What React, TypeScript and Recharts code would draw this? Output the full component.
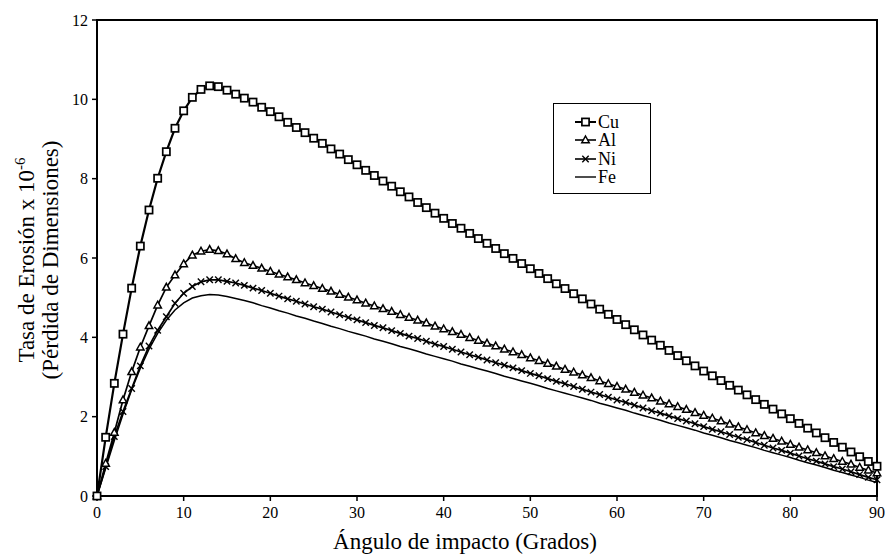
import { Line, LineChart, ReferenceArea, XAxis, YAxis } from "recharts";

const angles = [
  0, 1, 2, 3, 4, 5, 6, 7, 8, 9, 10, 11, 12, 13, 14, 15, 16, 17, 18, 19, 20, 21, 22, 23, 24, 25, 26, 27, 28, 29,
  30, 31, 32, 33, 34, 35, 36, 37, 38, 39, 40, 41, 42, 43, 44, 45, 46, 47, 48, 49, 50, 51, 52, 53, 54, 55, 56, 57, 58, 59,
  60, 61, 62, 63, 64, 65, 66, 67, 68, 69, 70, 71, 72, 73, 74, 75, 76, 77, 78, 79, 80, 81, 82, 83, 84, 85, 86, 87, 88, 89, 90,
];

const cu = [
  0, 1.48, 2.84, 4.08, 5.24, 6.3, 7.21, 8.01, 8.68, 9.27, 9.71, 10.05, 10.25, 10.34, 10.32, 10.23, 10.13, 10.03, 9.93, 9.8,
  9.69, 9.56, 9.42, 9.29, 9.16, 9.02, 8.89, 8.75, 8.62, 8.48, 8.35, 8.21, 8.08, 7.94, 7.81, 7.67, 7.54, 7.4, 7.27, 7.13,
  7.0, 6.87, 6.75, 6.62, 6.49, 6.37, 6.24, 6.11, 5.99, 5.86, 5.73, 5.61, 5.48, 5.35, 5.23, 5.1, 4.97, 4.84, 4.71, 4.58,
  4.45, 4.32, 4.19, 4.06, 3.93, 3.8, 3.67, 3.54, 3.41, 3.28, 3.15, 3.03, 2.91, 2.79, 2.67, 2.55, 2.43, 2.31, 2.19, 2.07,
  1.95, 1.83, 1.71, 1.59, 1.47, 1.35, 1.23, 1.11, 0.99, 0.87, 0.75,
];

const al = [
  0, 0.82, 1.6, 2.42, 3.13, 3.75, 4.29, 4.81, 5.26, 5.57, 5.85, 6.07, 6.17, 6.21, 6.18, 6.1, 5.98, 5.88, 5.81, 5.74,
  5.66, 5.59, 5.52, 5.45, 5.37, 5.3, 5.23, 5.16, 5.08, 5.01, 4.94, 4.86, 4.79, 4.72, 4.65, 4.57, 4.5, 4.43, 4.36, 4.28,
  4.21, 4.14, 4.07, 3.99, 3.92, 3.85, 3.78, 3.7, 3.63, 3.56, 3.48, 3.41, 3.34, 3.27, 3.19, 3.12, 3.05, 2.98, 2.9, 2.83,
  2.76, 2.69, 2.61, 2.54, 2.47, 2.39, 2.32, 2.25, 2.18, 2.1, 2.03, 1.96, 1.89, 1.81, 1.74, 1.67, 1.59, 1.52, 1.45, 1.38,
  1.3, 1.23, 1.16, 1.09, 1.01, 0.94, 0.87, 0.8, 0.72, 0.65, 0.58,
];

const ni = [
  0, 0.74, 1.5, 2.13, 2.71, 3.28, 3.78, 4.18, 4.52, 4.86, 5.11, 5.28, 5.4, 5.45, 5.45, 5.41, 5.37, 5.31, 5.24, 5.18,
  5.11, 5.04, 4.97, 4.91, 4.84, 4.77, 4.71, 4.64, 4.57, 4.5, 4.44, 4.37, 4.3, 4.24, 4.17, 4.1, 4.03, 3.97, 3.9, 3.83,
  3.77, 3.7, 3.63, 3.56, 3.5, 3.43, 3.36, 3.3, 3.23, 3.16, 3.09, 3.03, 2.96, 2.89, 2.83, 2.76, 2.69, 2.62, 2.56, 2.49,
  2.42, 2.36, 2.29, 2.22, 2.15, 2.09, 2.02, 1.95, 1.89, 1.82, 1.75, 1.68, 1.62, 1.55, 1.48, 1.42, 1.35, 1.28, 1.21, 1.15,
  1.08, 1.01, 0.94, 0.88, 0.81, 0.74, 0.68, 0.61, 0.54, 0.47, 0.41,
];

const fe = [
  0, 0.7, 1.4, 2.06, 2.68, 3.22, 3.7, 4.1, 4.43, 4.69, 4.87, 4.99, 5.05, 5.08, 5.07, 5.03, 4.98, 4.93, 4.87, 4.8,
  4.74, 4.67, 4.61, 4.54, 4.48, 4.41, 4.35, 4.28, 4.22, 4.15, 4.09, 4.03, 3.96, 3.9, 3.84, 3.77, 3.71, 3.65, 3.58, 3.52,
  3.46, 3.4, 3.33, 3.27, 3.21, 3.15, 3.09, 3.02, 2.96, 2.9, 2.84, 2.78, 2.71, 2.65, 2.59, 2.53, 2.47, 2.41, 2.34, 2.28,
  2.22, 2.16, 2.09, 2.03, 1.97, 1.91, 1.84, 1.78, 1.72, 1.66, 1.59, 1.53, 1.47, 1.4, 1.34, 1.28, 1.22, 1.15, 1.09, 1.03,
  0.97, 0.9, 0.84, 0.78, 0.72, 0.65, 0.59, 0.53, 0.47, 0.4, 0.34,
];

const xTicks = [0, 10, 20, 30, 40, 50, 60, 70, 80, 90];
const yTicks = [0, 2, 4, 6, 8, 10, 12];

const data = angles.map((a, i) => ({ angle: a, Cu: cu[i], Al: al[i], Ni: ni[i], Fe: fe[i] }));

const FONT = "'Liberation Serif', 'Times New Roman', serif";
const tickStyle = { fontFamily: FONT, fontSize: 16, fill: "#000" };

const SquareMark = ({ cx, cy }: { cx: number; cy: number }) => (
  <rect x={cx - 3.6} y={cy - 3.6} width={7.2} height={7.2} fill="#fff" stroke="#000" strokeWidth={1.7} />
);
const TriangleMark = ({ cx, cy }: { cx: number; cy: number }) => (
  <polygon points={`${cx},${cy - 4} ${cx + 3.7},${cy + 2.7} ${cx - 3.7},${cy + 2.7}`} fill="#fff" stroke="#000" strokeWidth={1.5} />
);
const CrossMark = ({ cx, cy }: { cx: number; cy: number }) => (
  <g stroke="#000" strokeWidth={1.4}>
    <line x1={cx - 3.2} y1={cy - 3.2} x2={cx + 3.2} y2={cy + 3.2} />
    <line x1={cx - 3.2} y1={cy + 3.2} x2={cx + 3.2} y2={cy - 3.2} />
  </g>
);

function dotWith(name: string, Mark: (p: { cx: number; cy: number }) => JSX.Element) {
  return (props: any) => {
    const { cx, cy, index } = props;
    if (cx == null || cy == null) return <g key={`${name}-${index}`} />;
    return (
      <g key={`${name}-${index}`}>
        <Mark cx={cx} cy={cy} />
      </g>
    );
  };
}

const legendItems = [
  { label: "Cu", mark: SquareMark, width: 2 },
  { label: "Al", mark: TriangleMark, width: 1.6 },
  { label: "Ni", mark: CrossMark, width: 1.6 },
  { label: "Fe", mark: null, width: 1.4 },
];

function LegendBox() {
  return (
    <div
      style={{
        position: "absolute",
        left: 553,
        top: 103,
        border: "1.5px solid #000",
        background: "#fff",
        width: 98,
        height: 91,
        boxSizing: "border-box",
        paddingTop: 9,
        fontFamily: FONT,
        fontSize: 18,
        color: "#000",
      }}
    >
      {legendItems.map((item) => {
        const Mark = item.mark;
        return (
          <div key={item.label} style={{ display: "flex", alignItems: "center", height: 18.3, paddingLeft: 20 }}>
            <svg width={23} height={12} style={{ marginRight: 1 }}>
              <line x1={1} y1={6} x2={22} y2={6} stroke="#000" strokeWidth={item.width} />
              {Mark ? <Mark cx={11.5} cy={6} /> : null}
            </svg>
            <span style={{ lineHeight: "18px" }}>{item.label}</span>
          </div>
        );
      })}
    </div>
  );
}

function YTitle() {
  const cy = 260;
  return (
    <g fontFamily={FONT} fontSize={23} fill="#000">
      <text transform={`translate(34, ${cy}) rotate(-90)`} textAnchor="middle">
        Tasa de Erosión x 10
        <tspan fontSize={15} dy={-9}>
          -6
        </tspan>
      </text>
      <text transform={`translate(58, ${cy}) rotate(-90)`} textAnchor="middle">
        (Pérdida de Dimensiones)
      </text>
    </g>
  );
}

function XTitle() {
  return (
    <text x={465} y={549} textAnchor="middle" fontFamily={FONT} fontSize={23} fill="#000">
      Ángulo de impacto (Grados)
    </text>
  );
}

export default function App() {
  return (
    <div style={{ position: "absolute", left: 0, top: 0, width: 885, height: 560, background: "#fff" }}>
      <LineChart width={885} height={560} data={data} margin={{ top: 20, right: 8, left: 0, bottom: 0 }}>
        <XAxis
          dataKey="angle"
          type="number"
          domain={[0, 90]}
          ticks={xTicks}
          tick={tickStyle}
          tickSize={5}
          tickMargin={6}
          height={64}
          axisLine={{ stroke: "#000", strokeWidth: 2 }}
          tickLine={{ stroke: "#000", strokeWidth: 1.5 }}
          label={<XTitle />}
        />
        <YAxis
          type="number"
          domain={[0, 12]}
          ticks={yTicks}
          tick={tickStyle}
          tickSize={5}
          tickMargin={4}
          width={97}
          axisLine={{ stroke: "#000", strokeWidth: 2 }}
          tickLine={{ stroke: "#000", strokeWidth: 1.5 }}
          label={<YTitle />}
        />
        <ReferenceArea x1={0} x2={90} y1={0} y2={12} fill="none" stroke="#000" strokeWidth={2} ifOverflow="visible" />
        <Line type="linear" dataKey="Fe" stroke="#000" strokeWidth={1.5} dot={false} isAnimationActive={false} />
        <Line type="linear" dataKey="Ni" stroke="#000" strokeWidth={1.7} dot={dotWith("ni", CrossMark)} isAnimationActive={false} />
        <Line type="linear" dataKey="Al" stroke="#000" strokeWidth={1.7} dot={dotWith("al", TriangleMark)} isAnimationActive={false} />
        <Line type="linear" dataKey="Cu" stroke="#000" strokeWidth={2.2} dot={dotWith("cu", SquareMark)} isAnimationActive={false} />
      </LineChart>
      <LegendBox />
    </div>
  );
}
